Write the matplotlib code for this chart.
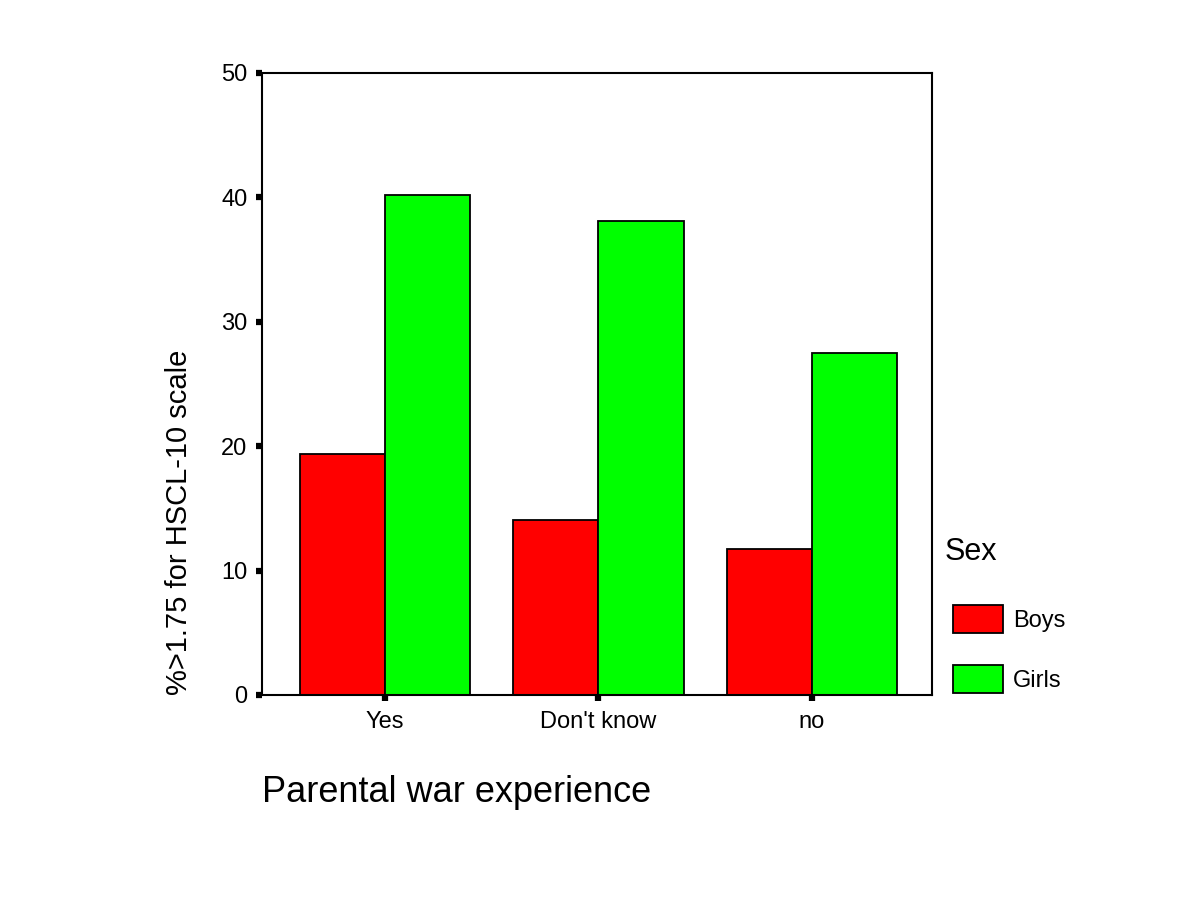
import numpy as np
import matplotlib
matplotlib.use("Agg")
import matplotlib.pyplot as plt

plt.rcParams['font.family'] = ['Liberation Sans', 'DejaVu Sans']

# data
categories = ["Yes", "Don't know", "no"]
boys = [19.4, 14.1, 11.7]
girls = [40.2, 38.1, 27.5]
series_names = ["Boys", "Girls"]
colors = ["#ff0000", "#00ff00"]

fig = plt.figure(figsize=(12, 9), dpi=100)
ax = fig.add_axes([0.2183, 0.2278, 0.5584, 0.6911])

x = np.arange(len(categories))
w = 0.4
ax.bar(x - w / 2, boys, w, color=colors[0], edgecolor="black", linewidth=1.3, label=series_names[0])
ax.bar(x + w / 2, girls, w, color=colors[1], edgecolor="black", linewidth=1.3, label=series_names[1])

ax.set_xlim(-0.576, 2.562)
ax.set_ylim(0, 50)
ax.set_yticks([0, 10, 20, 30, 40, 50])
ax.set_xticks(x)
ax.set_xticklabels(categories)

for s in ax.spines.values():
    s.set_linewidth(1.5)

ax.tick_params(axis="both", direction="out", length=4.5, width=4.5)
ax.tick_params(axis="y", pad=6, labelsize=17)
ax.tick_params(axis="x", pad=7, labelsize=17)

ax.set_xlabel("Parental war experience", loc="left", fontsize=26, labelpad=30)
ax.set_ylabel("%>1.75 for HSCL-10 scale", loc="bottom", fontsize=21, labelpad=20)

# legend title as separate text so it sits left of the patches
fig.text(945 / 1200, 1 - 552 / 900, "Sex", fontsize=22, va="center", ha="left")
leg = fig.legend(loc="upper left", bbox_to_anchor=(953 / 1200, 1 - 605 / 900), frameon=False,
                 fontsize=17, handlelength=2.1, handleheight=1.45, labelspacing=1.35,
                 handletextpad=0.45, borderpad=0, borderaxespad=0)

fig.savefig("out.png", dpi=100)
